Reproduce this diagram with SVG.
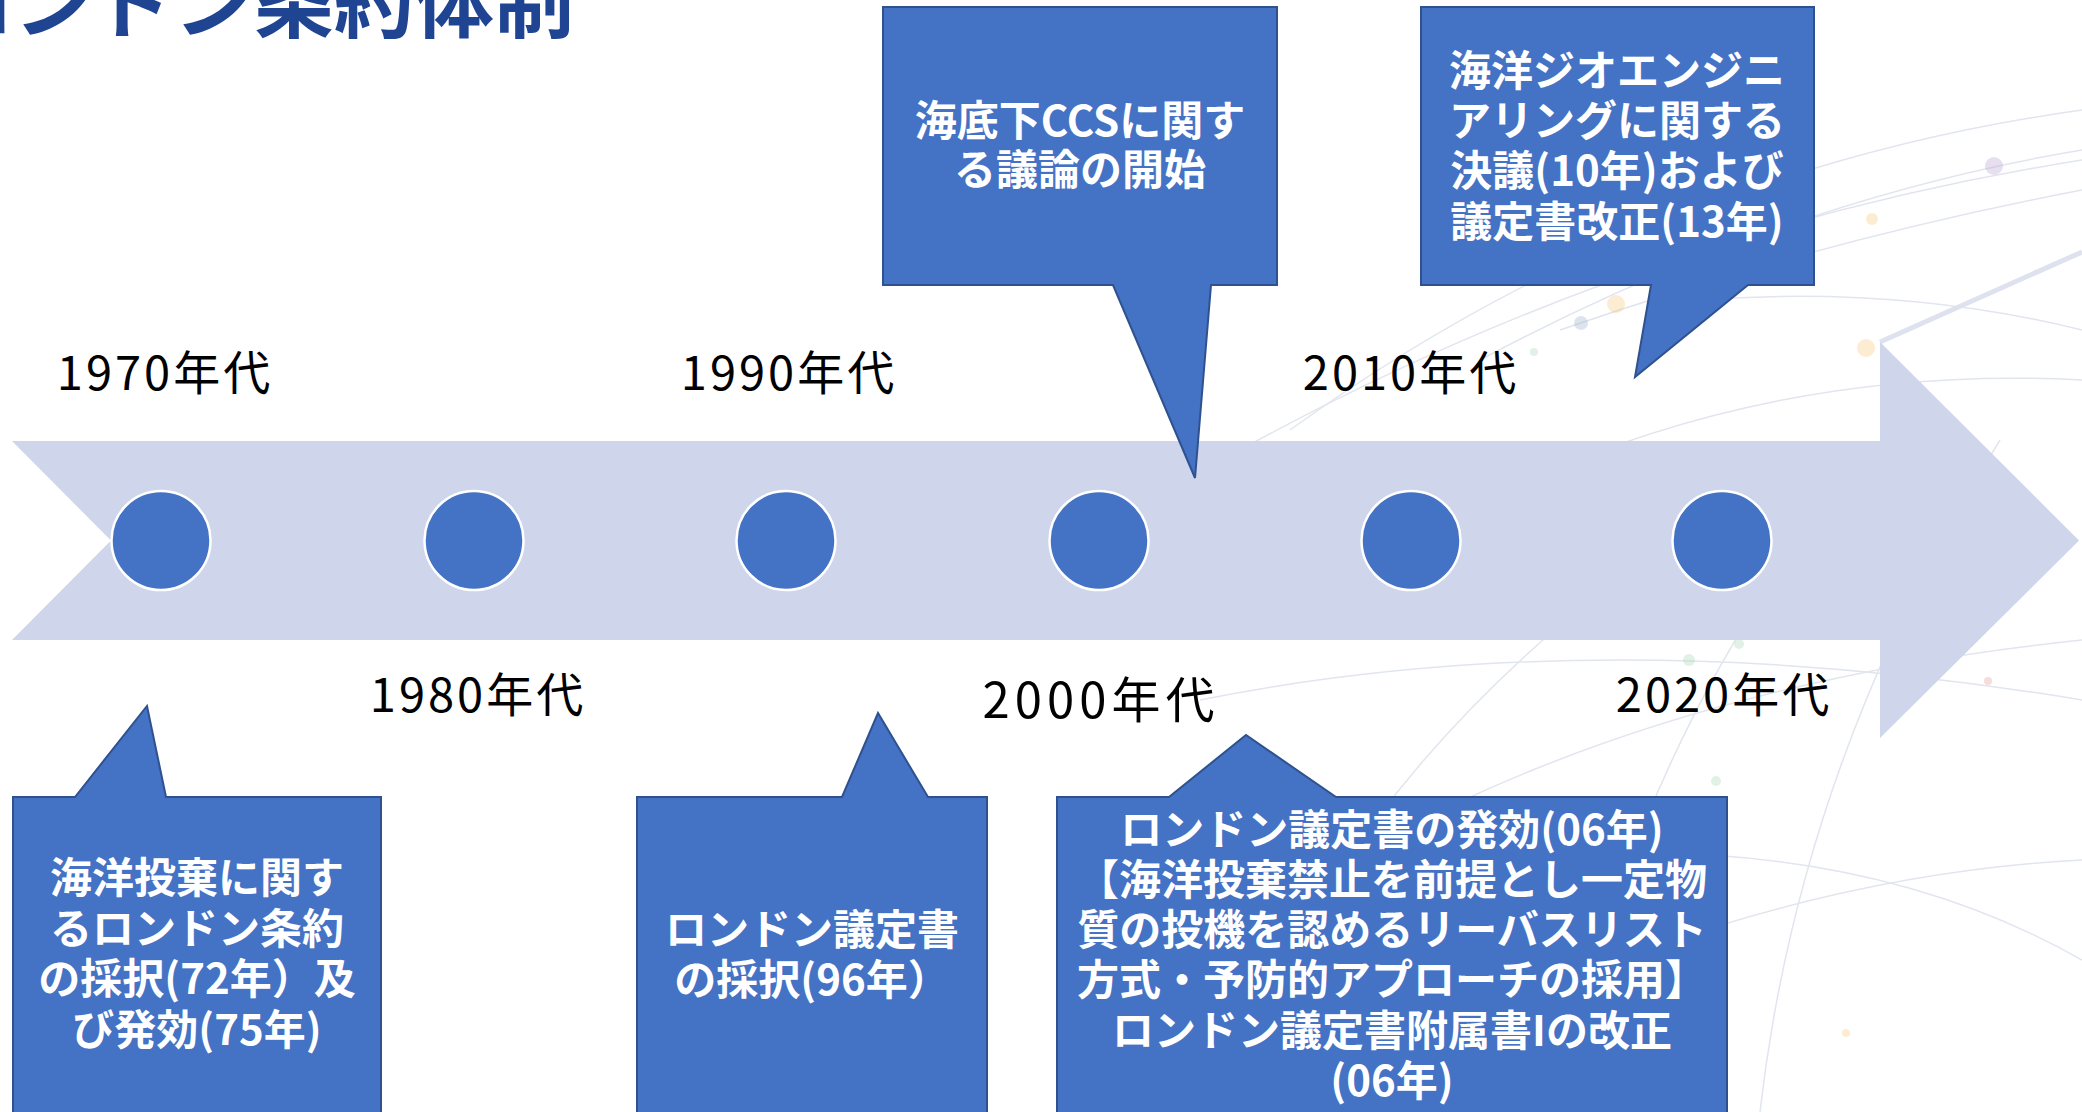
<svg xmlns="http://www.w3.org/2000/svg" width="2082" height="1112" viewBox="0 0 2082 1112">
  <style>
    .bg-line { fill: none; stroke: #e1e5ee; stroke-width: 1.5; }
    .dot { opacity: 0.35; }
    .arrow { fill: #CFD5EA; }
    .marker { fill: #4472C4; stroke: #FFFFFF; stroke-width: 2.5; }
    .decade { font-family: "Noto Sans CJK JP", "Noto Sans", sans-serif; font-size: 47px; fill: #000000; text-anchor: middle; letter-spacing: 3px; }
    .callout { fill: #4472C4; stroke: #2F528F; stroke-width: 2; stroke-linejoin: miter; }
    .ctext { font-family: "Noto Sans CJK JP", "Noto Sans", sans-serif; font-size: 42px; font-weight: bold; fill: #FFFFFF; text-anchor: middle; }
    .title { font-family: "Noto Sans CJK JP", "Noto Sans", sans-serif; font-size: 80px; font-weight: bold; fill: #1F4592; text-anchor: end; }
  </style>
  <rect width="2082" height="1112" fill="#FFFFFF"/>

  <g id="background-decoration">
    <path class="bg-line" d="M1290,430 Q1650,170 2082,110"/>
    <path class="bg-line" d="M1240,450 Q1640,230 2082,160"/>
    <path class="bg-line" d="M1480,360 Q1780,200 2082,150"/>
    <path class="bg-line" d="M1560,330 Q1820,240 2082,190"/>
    <path class="bg-line" d="M1700,300 Q1900,285 2082,330"/>
    <path class="bg-line" d="M1380,560 Q1700,360 2082,380"/>
    <path class="bg-line" d="M1560,1112 Q1640,700 1900,420"/>
    <path class="bg-line" d="M1760,1112 Q1800,760 2000,440"/>
    <path class="bg-line" d="M1240,1112 Q1300,820 1640,560"/>
    <path class="bg-line" d="M1150,1000 Q1500,700 2082,640"/>
    <path class="bg-line" d="M1300,1112 Q1700,880 2082,860"/>
    <path class="bg-line" d="M1200,700 Q1600,620 2082,700"/>
    <path class="bg-line" d="M1380,880 Q1800,800 2082,960"/>
    <path d="M1880,342 L2082,252" fill="none" stroke="#dde2ee" stroke-width="5"/>
    <circle class="dot" cx="1994" cy="166" r="9" fill="#b9a3d3"/>
    <circle class="dot" cx="1872" cy="219" r="6" fill="#f5c97a"/>
    <circle class="dot" cx="1616" cy="304" r="9" fill="#f5c97a"/>
    <circle class="dot" cx="1581" cy="323" r="7" fill="#9fb3cf"/>
    <circle class="dot" cx="1866" cy="348" r="9" fill="#f5c97a"/>
    <circle class="dot" cx="1534" cy="352" r="4" fill="#a8d8b8"/>
    <circle class="dot" cx="1689" cy="660" r="6" fill="#a8d8b8"/>
    <circle class="dot" cx="1739" cy="644" r="5" fill="#a8d8b8"/>
    <circle class="dot" cx="1988" cy="681" r="4" fill="#e79a9a"/>
    <circle class="dot" cx="1716" cy="781" r="5" fill="#a8d8b8"/>
    <circle class="dot" cx="1846" cy="1033" r="4" fill="#f5c97a"/>
  </g>

  <g id="title">
    <text class="title" x="574" y="31">ロンドン条約体制</text>
  </g>

  <g id="timeline-arrow">
    <polygon class="arrow" points="12,441 1880,441 1880,342 2079,540.5 1880,738 1880,640 12,640 111,540.5"/>
  </g>

  <g id="markers">
    <circle id="marker-1970" class="marker" cx="161" cy="540.5" r="49.5"/>
    <circle id="marker-1980" class="marker" cx="474" cy="540.5" r="49.5"/>
    <circle id="marker-1990" class="marker" cx="786" cy="540.5" r="49.5"/>
    <circle id="marker-2000" class="marker" cx="1099" cy="540.5" r="49.5"/>
    <circle id="marker-2010" class="marker" cx="1411" cy="540.5" r="49.5"/>
    <circle id="marker-2020" class="marker" cx="1722" cy="540.5" r="49.5"/>
  </g>

  <g id="decade-labels">
    <text id="label-1970" class="decade" x="165" y="390">1970年代</text>
    <text id="label-1980" class="decade" x="478" y="712">1980年代</text>
    <text id="label-1990" class="decade" x="789" y="390">1990年代</text>
    <text id="label-2000" class="decade" x="1101" y="718" style="font-size:49px;letter-spacing:5px">2000年代</text>
    <text id="label-2010" class="decade" x="1411" y="390">2010年代</text>
    <text id="label-2020" class="decade" x="1724" y="712">2020年代</text>
  </g>

  <g id="callout-ccs">
    <path class="callout" d="M883,7 H1277 V285 H1211 L1195,478 L1113,285 H883 Z"/>
    <text class="ctext"><tspan x="1080" y="136">海底下CCSに関す</tspan><tspan x="1080" y="185">る議論の開始</tspan></text>
  </g>

  <g id="callout-geoengineering">
    <path class="callout" d="M1421,7 H1814 V285 H1748 L1635,377 L1651,285 H1421 Z"/>
    <text class="ctext"><tspan x="1617" y="86">海洋ジオエンジニ</tspan><tspan x="1617" y="136">アリングに関する</tspan><tspan x="1617" y="186">決議(10年)および</tspan><tspan x="1617" y="237">議定書改正(13年)</tspan></text>
  </g>

  <g id="callout-london-convention">
    <path class="callout" d="M13,797 H75 L147,706 L166,797 H381 V1120 H13 Z"/>
    <text class="ctext"><tspan x="197" y="893">海洋投棄に関す</tspan><tspan x="197" y="944">るロンドン条約</tspan><tspan x="197" y="994">の採択(72年）及</tspan><tspan x="197" y="1045">び発効(75年)</tspan></text>
  </g>

  <g id="callout-protocol-adoption">
    <path class="callout" d="M637,797 H842 L878,713 L928,797 H987 V1120 H637 Z"/>
    <text class="ctext"><tspan x="812" y="945">ロンドン議定書</tspan><tspan x="812" y="995">の採択(96年）</tspan></text>
  </g>

  <g id="callout-protocol-entry">
    <path class="callout" d="M1057,797 H1169 L1246,735 L1336,797 H1727 V1120 H1057 Z"/>
    <text class="ctext"><tspan x="1392" y="845">ロンドン議定書の発効(06年)</tspan><tspan x="1392" y="895">【海洋投棄禁止を前提とし一定物</tspan><tspan x="1392" y="945">質の投機を認めるリーバスリスト</tspan><tspan x="1392" y="995">方式・予防的アプローチの採用】</tspan><tspan x="1392" y="1046">ロンドン議定書附属書Iの改正</tspan><tspan x="1392" y="1096">(06年)</tspan></text>
  </g>
</svg>
